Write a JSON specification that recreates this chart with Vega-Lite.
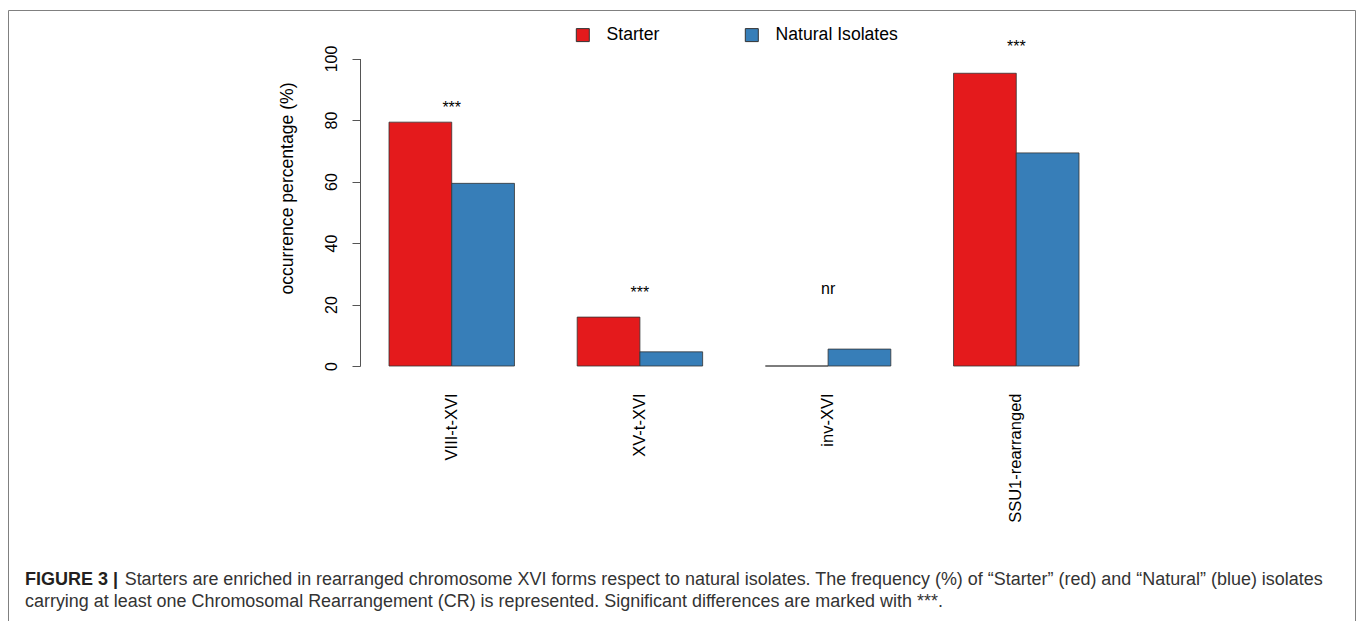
{
  "$schema": "https://vega.github.io/schema/vega-lite/v6.json",
  "width": 1347,
  "height": 611,
  "autosize": {"type": "none"},
  "padding": {"left": 8, "top": 10, "right": 2, "bottom": 0},
  "background": "white",
  "config": {
    "view": {"stroke": "#808080", "strokeWidth": 1},
    "font": "Liberation Sans",
    "axis": {"grid": false, "labelFont": "Liberation Sans", "titleFont": "Liberation Sans", "labelColor": "#000", "titleColor": "#000", "titleFontWeight": "normal"},
    "legend": {"labelFont": "Liberation Sans"}
  },
  "title": {
    "text": "FIGURE 3 |",
    "subtitle": [
      "\u200b\u00a0\u00a0\u00a0\u00a0\u00a0\u00a0\u00a0\u00a0\u00a0\u00a0\u00a0\u00a0\u00a0\u00a0\u00a0\u00a0\u00a0\u00a0\u00a0\u00a0Starters are enriched in rearranged chromosome XVI forms respect to natural isolates. The frequency (%) of “Starter” (red) and “Natural” (blue) isolates",
      "carrying at least one Chromosomal Rearrangement (CR) is represented. Significant differences are marked with ***."
    ],
    "orient": "bottom",
    "anchor": "start",
    "frame": "group",
    "offset": -50,
    "dx": 17,
    "font": "Liberation Sans",
    "fontSize": 18,
    "fontWeight": "bold",
    "color": "#231f20",
    "subtitleFont": "Liberation Sans",
    "subtitleFontSize": 17.95,
    "subtitleColor": "#333333",
    "subtitlePadding": -18,
    "subtitleLineHeight": 22
  },
  "datasets": {
    "bars": [
      {"chromosome": "VIII-t-XVI", "group": "Starter", "percent": 79.3},
      {"chromosome": "VIII-t-XVI", "group": "Natural Isolates", "percent": 59.4},
      {"chromosome": "XV-t-XVI", "group": "Starter", "percent": 15.9},
      {"chromosome": "XV-t-XVI", "group": "Natural Isolates", "percent": 4.6},
      {"chromosome": "inv-XVI", "group": "Starter", "percent": 0},
      {"chromosome": "inv-XVI", "group": "Natural Isolates", "percent": 5.5},
      {"chromosome": "SSU1-rearranged", "group": "Starter", "percent": 95.2},
      {"chromosome": "SSU1-rearranged", "group": "Natural Isolates", "percent": 69.3}
    ],
    "notes": [
      {"chromosome": "VIII-t-XVI", "label": "***", "pos": 84},
      {"chromosome": "XV-t-XVI", "label": "***", "pos": 23.8},
      {"chromosome": "inv-XVI", "label": "nr", "pos": 25},
      {"chromosome": "SSU1-rearranged", "label": "***", "pos": 103.7}
    ]
  },
  "layer": [
    {
      "data": {"name": "bars"},
      "mark": {"type": "bar", "stroke": "#333333", "strokeWidth": 0.8},
      "encoding": {
        "x": {
          "field": "chromosome", "type": "nominal",
          "sort": ["VIII-t-XVI", "XV-t-XVI", "inv-XVI", "SSU1-rearranged"],
          "scale": {"domain": ["VIII-t-XVI", "XV-t-XVI", "inv-XVI", "SSU1-rearranged"], "range": [381, 1071], "paddingInner": 0.3333, "paddingOuter": 0},
          "axis": {"orient": "bottom", "offset": -255, "title": null, "domain": false, "ticks": false, "labelAngle": 270, "labelAlign": "right", "labelBaseline": "middle", "labelPadding": 27, "labelFontSize": 16.5}
        },
        "xOffset": {
          "field": "group", "type": "nominal",
          "scale": {"domain": ["Starter", "Natural Isolates"], "paddingInner": 0, "paddingOuter": 0}
        },
        "y": {
          "field": "percent", "type": "quantitative",
          "scale": {"domain": [0, 100], "range": [356, 48.5], "nice": false, "zero": true},
          "axis": {
            "orient": "left", "offset": -352, "values": [0, 20, 40, 60, 80, 100],
            "domainColor": "#555555", "tickColor": "#555555", "tickSize": 8,
            "labelAngle": 270, "labelAlign": "center", "labelBaseline": "alphabetic", "labelPadding": 16, "labelFontSize": 16,
            "title": "occurrence percentage (%)", "titleFontSize": 17.6, "titleAngle": 270, "titleX": -68, "titleY": 178, "titleAlign": "center", "titleBaseline": "alphabetic"
          }
        },
        "color": {
          "field": "group", "type": "nominal",
          "scale": {"domain": ["Starter", "Natural Isolates"], "range": ["#E41A1C", "#377EB8"]},
          "legend": {
            "orient": "none", "legendX": 566, "legendY": 16, "direction": "horizontal", "title": null,
            "symbolType": "square", "symbolSize": 169, "symbolStrokeColor": "#333333", "symbolStrokeWidth": 1, "symbolOpacity": 1,
            "labelFontSize": 17.6, "labelColor": "#000", "labelOffset": 15, "columnPadding": 83
          }
        }
      }
    },
    {
      "data": {"name": "notes"},
      "mark": {"type": "text", "fontSize": 16, "baseline": "middle", "align": "center", "color": "#000"},
      "encoding": {
        "x": {"field": "chromosome", "type": "nominal", "title": null},
        "y": {"field": "pos", "type": "quantitative", "title": "occurrence percentage (%)"},
        "text": {"field": "label"}
      }
    }
  ]
}
